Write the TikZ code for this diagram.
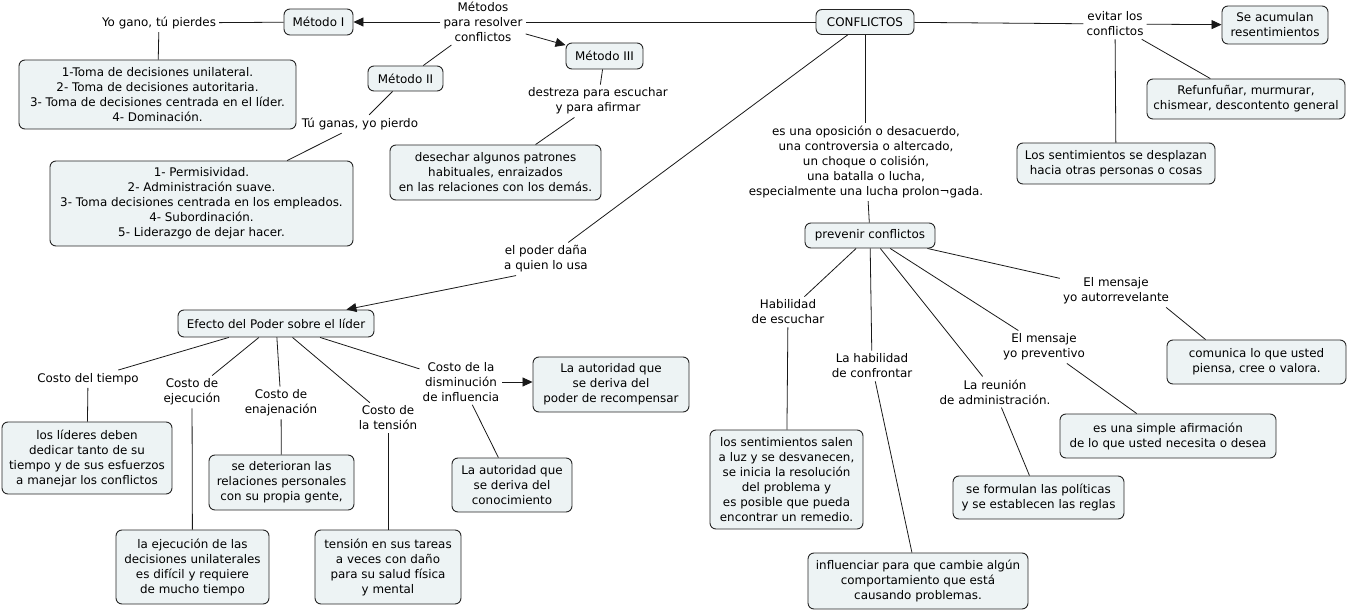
\documentclass[tikz,border=0pt]{standalone}
\usepackage{fontspec}
\setmainfont{DejaVu Sans}
\usetikzlibrary{arrows.meta}
\definecolor{boxfill}{RGB}{237,243,244}
\newcommand\mapfont{\fontsize{11.9}{15}\selectfont}
\tikzset{
  box/.style={draw=black!85, line width=0.9pt, rounded corners=6pt, fill=boxfill, align=center, inner sep=0pt, font=\mapfont},
  lbl/.style={align=center, inner sep=3pt, font=\mapfont},
  conn/.style={line width=0.8pt, draw=black!90},
  arr/.style={conn, -{Triangle[length=10pt,width=9pt]}}
}
\begin{document}
\begin{tikzpicture}[x=1pt,y=-1pt]
\useasboundingbox (0,0) rectangle (1350,612);
% boxes
\node[box, minimum width=98pt, minimum height=25pt] (conf) at (865,22) {CONFLICTOS};
\node[box, minimum width=69pt, minimum height=26pt] (m1) at (318.5,22) {Método I};
\node[box, minimum width=75pt, minimum height=25pt] (m2) at (405.5,78.5) {Método II};
\node[box, minimum width=77pt, minimum height=26pt] (m3) at (604.5,56) {Método III};
\node[box, minimum width=277pt, minimum height=69pt] (b1) at (157.5,94.5) {1-Toma de decisiones unilateral.\\2- Toma de decisiones autoritaria.\\3- Toma de decisiones centrada en el líder.\\4- Dominación.};
\node[box, minimum width=303pt, minimum height=85pt] (b2) at (201.5,203.5) {1- Permisividad.\\2- Administración suave.\\3- Toma decisiones centrada en los empleados.\\4- Subordinación.\\5- Liderazgo de dejar hacer.};
\node[box, minimum width=211pt, minimum height=55pt] (desech) at (495.5,172.5) {desechar algunos patrones\\habituales, enraizados\\en las relaciones con los demás.};
\node[box, minimum width=106pt, minimum height=38pt] (acum) at (1275,25) {Se acumulan\\resentimientos};
\node[box, minimum width=198pt, minimum height=40pt] (refun) at (1246,99) {Refunfuñar, murmurar,\\chismear, descontento general};
\node[box, minimum width=198pt, minimum height=41pt] (despl) at (1116,163.5) {Los sentimientos se desplazan\\hacia otras personas o cosas};
\node[box, minimum width=130pt, minimum height=25pt] (prev) at (870,235.5) {prevenir conflictos};
\node[box, minimum width=196pt, minimum height=27pt] (efecto) at (276,323.5) {Efecto del Poder sobre el líder};
\node[box, minimum width=156pt, minimum height=55pt] (recomp) at (611,384.5) {La autoridad que\\se deriva del\\poder de recompensar};
\node[box, minimum width=170pt, minimum height=72pt] (lideres) at (87,458) {los líderes deben\\dedicar tanto de su\\tiempo y de sus esfuerzos\\a manejar los conflictos};
\node[box, minimum width=153pt, minimum height=74pt] (ejec) at (192.5,567) {la ejecución de las\\decisiones unilaterales\\es difícil y requiere\\de mucho tiempo};
\node[box, minimum width=145pt, minimum height=55pt] (deter) at (281.5,482.5) {se deterioran las\\relaciones personales\\con su propia gente,};
\node[box, minimum width=146pt, minimum height=74pt] (tens) at (388,567) {tensión en sus tareas\\a veces con daño\\para su salud física\\y mental};
\node[box, minimum width=120pt, minimum height=54pt] (conoc) at (512,485) {La autoridad que\\se deriva del\\conocimiento};
\node[box, minimum width=179pt, minimum height=44pt] (comun) at (1256.5,362) {comunica lo que usted\\piensa, cree o valora.};
\node[box, minimum width=216pt, minimum height=44pt] (simple) at (1168,436) {es una simple afirmación\\de lo que usted necesita o desea};
\node[box, minimum width=171pt, minimum height=43pt] (formul) at (1038.5,497.5) {se formulan las políticas\\y se establecen las reglas};
\node[box, minimum width=153pt, minimum height=99pt] (salen) at (786.5,479.5) {los sentimientos salen\\a luz y se desvanecen,\\se inicia la resolución\\del problema y\\es posible que pueda\\encontrar un remedio.};
\node[box, minimum width=220pt, minimum height=56pt] (influ) at (918,581) {influenciar para que cambie algún\\comportamiento que está\\causando problemas.};
% labels
\node[lbl] (metodos) at (483,22) {Métodos\\para resolver\\conflictos};
\node[lbl] (yogano) at (159,23) {Yo gano, tú pierdes};
\node[lbl] (tuganas) at (360,124) {Tú ganas, yo pierdo};
\node[lbl] (destreza) at (598,101) {destreza para escuchar\\y para afirmar};
\node[lbl] (evitar) at (1115,24) {evitar los\\conflictos};
\node[lbl] (oposic) at (866,162) {es una oposición o desacuerdo,\\una controversia o altercado,\\un choque o colisión,\\una batalla o lucha,\\especialmente una lucha prolon¬gada.};
\node[lbl] (poder) at (546,259) {el poder daña\\a quien lo usa};
\node[lbl] (ctiempo) at (88,379) {Costo del tiempo};
\node[lbl] (cejec) at (192,392) {Costo de\\ejecución};
\node[lbl] (cenaj) at (281,403) {Costo de\\enajenación};
\node[lbl] (ctens) at (388,418) {Costo de\\la tensión};
\node[lbl] (cdism) at (461,382) {Costo de la\\disminución\\de influencia};
\node[lbl] (habesc) at (788,312) {Habilidad\\de escuchar};
\node[lbl] (habconf) at (872,366) {La habilidad\\de confrontar};
\node[lbl] (reunion) at (995,392) {La reunión\\de administración.};
\node[lbl] (prevent) at (1044,347) {El mensaje\\yo preventivo};
\node[lbl] (autorr) at (1116,291) {El mensaje\\yo autorrevelante};
% connectors
\draw[conn] (conf) -- (metodos);
\draw[arr] (metodos) -- (m1);
\draw[conn] (metodos) -- (m2);
\draw[arr] (metodos) -- (m3);
\draw[conn] (m1) -- (yogano);
\draw[conn] (yogano) -- (b1);
\draw[conn] (m2) -- (tuganas);
\draw[conn] (tuganas) -- (b2);
\draw[conn] (m3) -- (destreza);
\draw[conn] (destreza) -- (desech);
\draw[conn] (conf) -- (evitar);
\draw[arr] (evitar) -- (acum);
\draw[conn] (evitar) -- (refun);
\draw[conn] (evitar) -- (despl);
\draw[conn] (conf) -- (conf |- oposic.north);
\draw[conn] (oposic) -- (prev);
\draw[conn] (conf) -- (poder);
\draw[arr] ([xshift=15pt]poder.south west) -- ([xshift=-28pt]efecto.north east);
\draw[conn] (efecto) -- (ctiempo);
\draw[conn] (ctiempo) -- (lideres);
\draw[conn] (efecto) -- (cejec);
\draw[conn] (cejec) -- (ejec);
\draw[conn] (efecto) -- (cenaj);
\draw[conn] (cenaj) -- (deter);
\draw[conn] (efecto) -- (ctens);
\draw[conn] (ctens) -- (tens);
\draw[conn] (efecto) -- (cdism);
\draw[arr] (cdism.east) -- (cdism.east -| recomp.west);
\draw[conn] (cdism) -- (conoc);
\draw[conn] (prev) -- (habesc);
\draw[conn] (habesc) -- (salen);
\draw[conn] (prev) -- (habconf);
\draw[conn] (habconf) -- (influ);
\draw[conn] (prev) -- (reunion);
\draw[conn] (reunion) -- (formul);
\draw[conn] (prev) -- (prevent);
\draw[conn] (prevent) -- (simple);
\draw[conn] (prev) -- (autorr);
\draw[conn] ([xshift=-6pt]autorr.south east) -- ([xshift=39pt]comun.north west);
\end{tikzpicture}
\end{document}
